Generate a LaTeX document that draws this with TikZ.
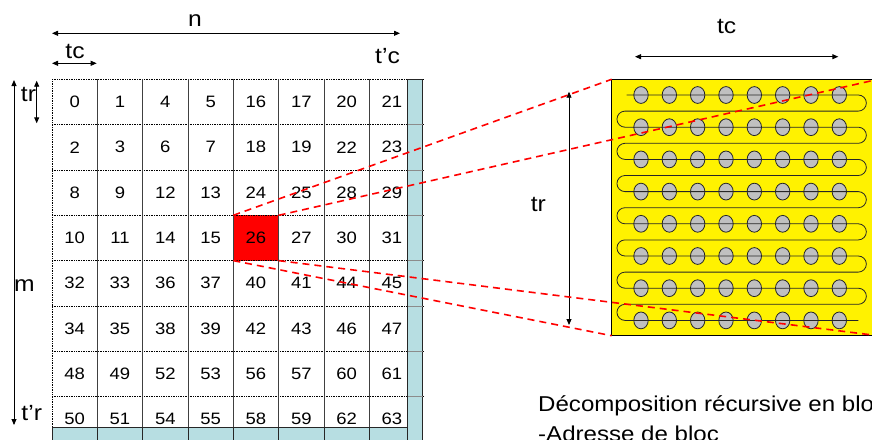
\documentclass[tikz,border=0pt]{standalone}
\usepackage{fontspec}
\setmainfont{Liberation Sans}[FakeStretch=1.12]
\usetikzlibrary{arrows.meta}
\definecolor{stripblue}{RGB}{183,222,226}
\definecolor{circgray}{RGB}{192,192,192}
\tikzset{
  cell/.style={minimum width=45.33pt, minimum height=45.33pt, inner sep=0pt, outer sep=0pt, font=\fontsize{16.5}{18}\selectfont},
  lbl/.style={inner sep=0pt, anchor=base, font=\fontsize{22}{26}\selectfont},
  dimarrow/.style={line width=0.9pt, {Triangle[length=6pt,width=5pt]}-{Triangle[length=6pt,width=5pt]}},
  hline/.style={densely dotted, line width=0.7pt},
  vline/.style={black!75, line width=0.7pt},
  reddash/.style={red, line width=1.6pt, dash pattern=on 7pt off 5pt},
  dotcirc/.style={fill=circgray, draw=black!85, line width=0.8pt},
  stripbox/.style={fill=stripblue, draw=black!85, line width=0.7pt},
}
\begin{document}
\begin{tikzpicture}[x=1pt,y=-1pt]
\useasboundingbox (0,0) rectangle (872,439);
\clip (0,0) rectangle (872,439);
\fill[white] (0,0) rectangle (872,439);

% red cell background
\fill[red] (233.3,215.3) rectangle (278.7,260.7);

% grid lines
\foreach \k in {0,...,7}
  \draw[hline] (52,{79.3+45.33*\k}) -- (422.7,{79.3+45.33*\k});
\draw[densely dotted, line width=0.7pt] (52,79.3) -- (52,439);
\foreach \k in {1,...,7}
  \draw[vline] ({52+45.33*\k},79.3) -- ({52+45.33*\k},439);

% numbers
\foreach \row [count=\r from 0] in {{0,1,4,5,16,17,20,21},{2,3,6,7,18,19,22,23},{8,9,12,13,24,25,28,29},{10,11,14,15,26,27,30,31},{32,33,36,37,40,41,44,45},{34,35,38,39,42,43,46,47},{48,49,52,53,56,57,60,61},{50,51,54,55,58,59,62,63}} {
  \foreach \n [count=\c from 0] in \row {
    \node[cell] (c-\r-\c) at ({52+45.33*(\c+0.5)},{79.3+45.33*(\r+0.5)}) {\n};
  }
}

% light blue strips
\draw[stripbox] (407.5,79.3) rectangle (422.7,445);
\foreach \k in {0,...,6}
  \draw[stripbox] ({52+45.33*\k},426.9) rectangle ({52+45.33*(\k+1)},445);
\draw[stripbox] (369.3,426.9) rectangle (407.5,445);
\foreach \k in {1,...,7}
  \draw[black!45, line width=0.6pt] (407.5,{79.3+45.33*\k}) -- (422.7,{79.3+45.33*\k});

% dimension arrows, left part
\coordinate (nL) at (52,33.3);   \coordinate (nR) at (400,33.3);
\coordinate (tcL) at (52,63.3);  \coordinate (tcR) at (96.7,63.3);
\coordinate (mT) at (14,80);     \coordinate (mB) at (14,425);
\coordinate (trT) at (36.7,80.7); \coordinate (trB) at (36.7,123.3);
\draw[dimarrow] (nL) -- (nR);
\draw[dimarrow] (tcL) -- (tcR);
\draw[dimarrow] (mT) -- (mB);
\draw[dimarrow] (trT) -- (trB);
\node[lbl] (ln) at (195,26.7) {n};
\node[lbl] (ltc) at (75,58.3) {tc};
\node[lbl] (ltpc) at (387.5,63.3) {t’c};
\node[lbl] (ltr) at (28.5,101) {tr};
\node[lbl] (lm) at (24.5,291.7) {m};
\node[lbl] (ltpr) at (31.7,420) {t’r};

% right block
\node[draw=black, line width=1pt, fill=yellow, minimum width=266.3pt, minimum height=256.4pt, inner sep=0pt, outer sep=0pt, anchor=north west] (blk) at (611.7,79.3) {};
\foreach \j in {0,...,7}
  \foreach \i in {0,...,7}
    \draw[dotcirc] ({641+28.33*\i},{95+32.2*\j}) ellipse [x radius=7.2pt, y radius=8.4pt];
\draw[line width=0.8pt, black!85] (626.7,95) -- (858.3,95)
  foreach \j in {0,...,6} { arc[start angle=90, end angle=-90, radius=8.05pt] -- ++(-233.3,0) arc[start angle=90, end angle=270, radius=8.05pt] -- ++(233.3,0) };

\coordinate (rtcL) at (635,56.7);  \coordinate (rtcR) at (838.3,56.7);
\coordinate (rtrT) at (569,91.7);  \coordinate (rtrB) at (569,325);
\draw[dimarrow] (rtcL) -- (rtcR);
\draw[dimarrow] (rtrT) -- (rtrB);
\node[lbl] (rltc) at (726.7,33.3) {tc};
\node[lbl] (rltr) at (538.3,211.7) {tr};

% red dashed projection lines
\draw[reddash] (c-3-4.north west) -- (blk.north west);
\draw[reddash] (c-3-4.north east) -- (blk.north east);
\draw[reddash] (c-3-4.south west) -- (blk.south west);
\draw[reddash] (c-3-4.south east) -- (blk.south east);

% caption
\node[inner sep=0pt, anchor=base west, font=\fontsize{21.5}{26}\selectfont] (cap1) at (538,411.8) {Décomposition récursive en bloc};
\node[inner sep=0pt, anchor=base west, font=\fontsize{21.5}{26}\selectfont] (cap2) at (538,441.8) {-Adresse de bloc};
\end{tikzpicture}
\end{document}
